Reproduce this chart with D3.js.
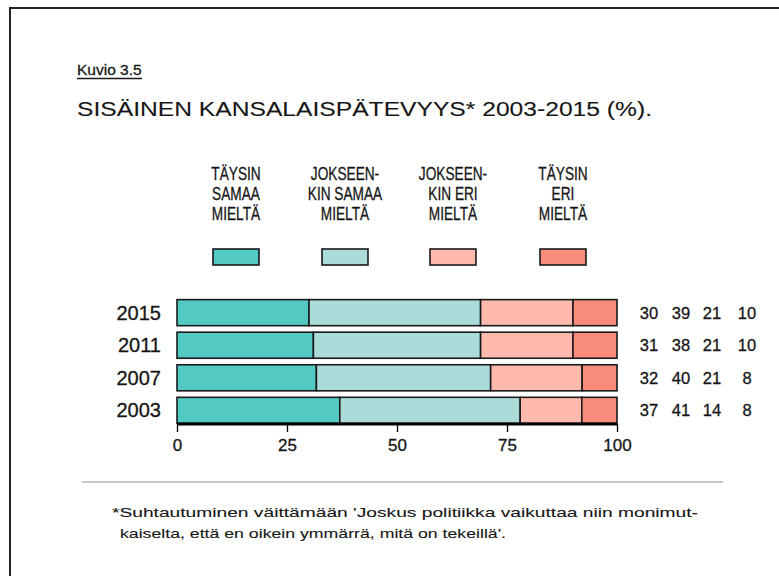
<!DOCTYPE html>
<html><head><meta charset="utf-8">
<script src="https://cdn.jsdelivr.net/npm/d3@7"></script>
<style>body{margin:0;background:#fff}svg{display:block}text{font-family:"Liberation Sans",Arial,sans-serif;fill:#161616;stroke:#161616;stroke-width:0.3px}text.thin{stroke-width:0.1px}</style>
</head><body><svg id="c" width="779" height="576"></svg>
<script>
const years = ["2015","2011","2007","2003"];
const seriesNames = ["TÄYSIN SAMAA MIELTÄ","JOKSEEN-KIN SAMAA MIELTÄ","JOKSEEN-KIN ERI MIELTÄ","TÄYSIN ERI MIELTÄ"];
const legendLines = [["TÄYSIN","SAMAA","MIELTÄ"],["JOKSEEN-","KIN SAMAA","MIELTÄ"],["JOKSEEN-","KIN ERI","MIELTÄ"],["TÄYSIN","ERI","MIELTÄ"]];
const taysinSamaa = [30,31,32,37];
const jokseenkinSamaa = [39,38,40,41];
const jokseenkinEri = [21,21,21,14];
const taysinEri = [10,10,8,8];
const xTicks = [0,25,50,75,100];
const colors = ["#52c9c3","#acdcd9","#ffb9ad","#fa8c7e"];

const svg = d3.select("#c");
// frame
svg.append("path").attr("d","M10,580 L10,8 L785,8").attr("fill","none").attr("stroke","#222").attr("stroke-width",2);

svg.append("text").attr("x",77).attr("y",75).attr("font-size",15.5).text("Kuvio 3.5");
svg.append("line").attr("x1",77).attr("x2",142).attr("y1",78.5).attr("y2",78.5).attr("stroke","#1a1a1a").attr("stroke-width",1.4);
svg.append("text").attr("class","thin").attr("x",77).attr("y",116).attr("font-size",19.5).attr("textLength",575).attr("lengthAdjust","spacingAndGlyphs").text("SISÄINEN KANSALAISPÄTEVYYS* 2003-2015 (%).");

// percentage scale (rows normalised to 100 %)
const x = d3.scaleLinear().domain([0,100]).range([177,617]);
const y = d3.scaleBand().domain(years).range([298,425]).paddingInner(0.2).paddingOuter(0.05);

const data = years.map((yr,i)=>({year:yr, v:[taysinSamaa[i],jokseenkinSamaa[i],jokseenkinEri[i],taysinEri[i]]}));
const keys = [0,1,2,3];
const stack = d3.stack().keys(keys).value((d,k)=>d.v[k]).offset(d3.stackOffsetExpand);
const layers = stack(data);

svg.append("g").selectAll("g").data(layers).join("g").attr("fill",(d,i)=>colors[i])
  .selectAll("rect").data(d=>d).join("rect")
  .attr("x",d=>x(d[0]*100)).attr("width",d=>x(d[1]*100)-x(d[0]*100))
  .attr("y",d=>y(d.data.year)).attr("height",y.bandwidth())
  .attr("stroke","#1a1a1a").attr("stroke-width",1.6);

// year labels
svg.append("g").selectAll("text").data(years).join("text")
  .attr("x",161).attr("y",d=>y(d)+y.bandwidth()/2+7).attr("text-anchor","end").attr("font-size",20).text(d=>d);

// value labels
const colCenters = [649,681,712,747];
data.forEach(d=>{
  d.v.forEach((v,k)=>{
    svg.append("text").attr("x",colCenters[k]).attr("y",y(d.year)+y.bandwidth()/2+6).attr("text-anchor","middle").attr("font-size",16.5).text(v);
  });
});

// axis
const ax = svg.append("g").attr("transform","translate(0,424)")
  .call(d3.axisBottom(x).tickValues(xTicks).tickSize(8).tickPadding(7));
ax.select(".domain").attr("stroke","#000").attr("stroke-width",3).attr("d","M177,0H617");
ax.selectAll(".tick line").attr("stroke","#000").attr("stroke-width",1.3);
ax.selectAll(".tick text").attr("font-size",17).attr("fill","#161616").style("font-family","Liberation Sans, Arial, sans-serif");

// legend
const legX = [236,345,453,563];
legendLines.forEach((lines,i)=>{
  lines.forEach((t,j)=>{
    svg.append("text").attr("x",legX[i]).attr("y",180+j*20).attr("text-anchor","middle").attr("font-size",18)
      .attr("transform",`translate(${legX[i]},0) scale(0.76,1) translate(${-legX[i]},0)`).text(t);
  });
  svg.append("rect").attr("x",legX[i]-23).attr("y",249).attr("width",46).attr("height",16)
    .attr("fill",colors[i]).attr("stroke","#1a1a1a").attr("stroke-width",1.6);
});

// separator and footnote
svg.append("line").attr("x1",82).attr("x2",723).attr("y1",482).attr("y2",482).attr("stroke","#c8c8c8").attr("stroke-width",2);
svg.append("text").attr("class","thin").attr("x",112).attr("y",517).attr("font-size",13.5).attr("textLength",586).attr("lengthAdjust","spacingAndGlyphs").text("*Suhtautuminen väittämään 'Joskus politiikka vaikuttaa niin monimut-");
svg.append("text").attr("class","thin").attr("x",120).attr("y",538).attr("font-size",13.5).attr("textLength",386).attr("lengthAdjust","spacingAndGlyphs").text("kaiselta, että en oikein ymmärrä, mitä on tekeillä'.");
</script></body></html>
